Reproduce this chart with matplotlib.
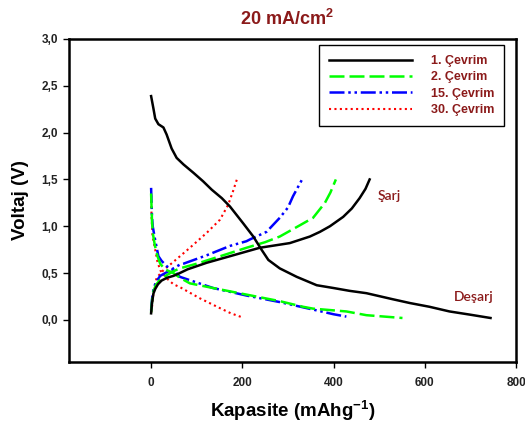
import matplotlib
matplotlib.use("Agg")
import matplotlib.pyplot as plt

plt.rcParams['font.family'] = ['Liberation Sans', 'DejaVu Sans']
plt.rcParams['mathtext.fontset'] = 'custom'
plt.rcParams['mathtext.rm'] = 'Liberation Sans'
plt.rcParams['mathtext.bf'] = 'Liberation Sans:bold'
plt.rcParams['mathtext.default'] = 'bf'

# cycle 1
c1_dis_x = [0, 5, 9, 16, 27, 34, 45, 56, 71, 93, 114, 133, 155, 173, 202, 224, 242,
            257, 282, 319, 363, 400, 435, 472, 530, 567, 610, 654, 700, 744]
c1_dis_v = [2.39, 2.26, 2.15, 2.09, 2.055, 1.98, 1.83, 1.73, 1.66, 1.57, 1.48, 1.39,
            1.30, 1.21, 1.03, 0.89, 0.75, 0.64, 0.55, 0.46, 0.37, 0.34, 0.31, 0.285,
            0.22, 0.18, 0.14, 0.09, 0.055, 0.02]
c1_chg_x = [0, 2, 5, 9, 15, 23, 35, 49, 63, 80, 122, 173, 238, 304, 348, 370, 392,
            421, 440, 457, 470, 479]
c1_chg_v = [0.07, 0.18, 0.28, 0.33, 0.38, 0.42, 0.45, 0.47, 0.50, 0.54, 0.61, 0.68,
            0.77, 0.82, 0.89, 0.94, 1.00, 1.10, 1.19, 1.30, 1.40, 1.50]

# cycle 2
c2_chg_x = [0, 2, 5, 10, 20, 35, 49, 63, 100, 158, 209, 250, 282, 326, 355, 381, 393, 405]
c2_chg_v = [0.08, 0.20, 0.30, 0.37, 0.43, 0.48, 0.52, 0.55, 0.60, 0.69, 0.77, 0.83,
            0.89, 1.01, 1.09, 1.25, 1.36, 1.50]
c2_dis_x = [0, 1, 2, 4, 8, 14, 20, 30, 49, 63, 85, 136, 209, 282, 333, 355, 428, 472, 551]
c2_dis_v = [1.35, 1.20, 1.05, 0.92, 0.80, 0.68, 0.60, 0.54, 0.50, 0.45, 0.39, 0.34,
            0.27, 0.20, 0.14, 0.12, 0.09, 0.05, 0.02]

# cycle 15
c15_chg_x = [0, 2, 5, 10, 20, 42, 63, 71, 122, 173, 209, 217, 253, 282, 300, 311, 331]
c15_chg_v = [0.10, 0.22, 0.32, 0.40, 0.47, 0.53, 0.59, 0.60, 0.69, 0.79, 0.84, 0.86,
             0.94, 1.09, 1.20, 1.32, 1.50]
c15_dis_x = [0, 1, 2, 3.5, 9, 16, 23, 35, 49, 63, 136, 209, 282, 355, 400, 428]
c15_dis_v = [1.41, 1.25, 1.10, 1.00, 0.85, 0.68, 0.63, 0.57, 0.53, 0.46, 0.34, 0.26,
             0.19, 0.11, 0.06, 0.035]

# cycle 30
c30_chg_x = [0, 2, 5, 12, 27, 49, 85, 122, 151, 169, 180, 188]
c30_chg_v = [0.08, 0.14, 0.28, 0.45, 0.53, 0.62, 0.77, 0.93, 1.07, 1.23, 1.38, 1.50]
c30_dis_x = [0, 1, 3, 9, 14, 20, 35, 49, 63, 107, 151, 175, 198]
c30_dis_v = [1.33, 1.10, 0.90, 0.75, 0.62, 0.53, 0.44, 0.38, 0.35, 0.23, 0.125, 0.07, 0.03]

labels = ['1. Çevrim', '2. Çevrim', '15. Çevrim', '30. Çevrim']
y_ticks = [0.0, 0.5, 1.0, 1.5, 2.0, 2.5, 3.0]
y_ticklabels = ['0,0', '0,5', '1,0', '1,5', '2,0', '2,5', '3,0']
x_ticks = [0, 200, 400, 600, 800]

dark_red = '#8b1a1a'

fig = plt.figure(figsize=(5.25, 4.28), dpi=100)
ax = fig.add_axes([0.1314, 0.1542, 0.8516, 0.7547])

lw = 1.8
ax.plot(c30_chg_x, c30_chg_v, color='red', lw=1.5, dashes=(1, 1.6))
ax.plot(c30_dis_x, c30_dis_v, color='red', lw=1.5, dashes=(1, 1.6), label=labels[3])
ax.plot(c15_chg_x, c15_chg_v, color='blue', lw=lw, dashes=(6, 1.5, 1, 1.5, 1, 1.5))
ax.plot(c15_dis_x, c15_dis_v, color='blue', lw=lw, dashes=(6, 1.5, 1, 1.5, 1, 1.5),
        label=labels[2])
ax.plot(c2_chg_x, c2_chg_v, color='#00ff00', lw=lw, dashes=(6, 2))
ax.plot(c2_dis_x, c2_dis_v, color='#00ff00', lw=lw, dashes=(6, 2), label=labels[1])
ax.plot(c1_chg_x, c1_chg_v, color='black', lw=lw)
ax.plot(c1_dis_x, c1_dis_v, color='black', lw=lw, label=labels[0])

ax.set_xlim(-180, 800)
ax.set_ylim(-0.45, 3.0)
ax.set_xticks(x_ticks)
ax.set_xticklabels([str(t) for t in x_ticks])
ax.set_yticks(y_ticks)
ax.set_yticklabels(y_ticklabels)
for lab in ax.get_xticklabels() + ax.get_yticklabels():
    lab.set_fontweight('bold')
    lab.set_fontsize(8.5)
    lab.set_color('#222222')
ax.tick_params(axis='x', direction='out', length=4, width=1, pad=7)
ax.tick_params(axis='y', direction='out', length=4, width=1, pad=4)
for s in ax.spines.values():
    s.set_linewidth(1.8)

ax.set_xlabel('Kapasite (mAhg$^{-1}$)', fontsize=13.5, fontweight='bold', labelpad=7)
ax.set_ylabel('Voltaj (V)', fontsize=13.5, fontweight='bold', labelpad=9)

fig.text(0.547, 0.956, '20 mA/cm$^{2}$', ha='center', va='center', fontsize=13,
         fontweight='bold', color=dark_red)

ax.text(523, 1.32, 'Şarj', ha='center', va='center', fontsize=10, color=dark_red,
        family=['Lato', 'DejaVu Sans'], fontweight='semibold')
ax.text(707, 0.245, 'Deşarj', ha='center', va='center', fontsize=10, color=dark_red,
        family=['Lato', 'DejaVu Sans'], fontweight='semibold')

handles, labs = ax.get_legend_handles_labels()
order = [3, 2, 1, 0]
leg = ax.legend([handles[i] for i in order], [labs[i] for i in order],
                loc='upper right', bbox_to_anchor=(0.96, 0.895),
                bbox_transform=fig.transFigure, borderaxespad=0,
                fancybox=False, framealpha=1, edgecolor='black',
                handlelength=6.6, handletextpad=1.5, labelspacing=0.35,
                borderpad=0.8, prop={'weight': 'bold', 'size': 9})
leg.get_frame().set_linewidth(1.0)
for t in leg.get_texts():
    t.set_color(dark_red)

fig.savefig('out.png', dpi=100)
